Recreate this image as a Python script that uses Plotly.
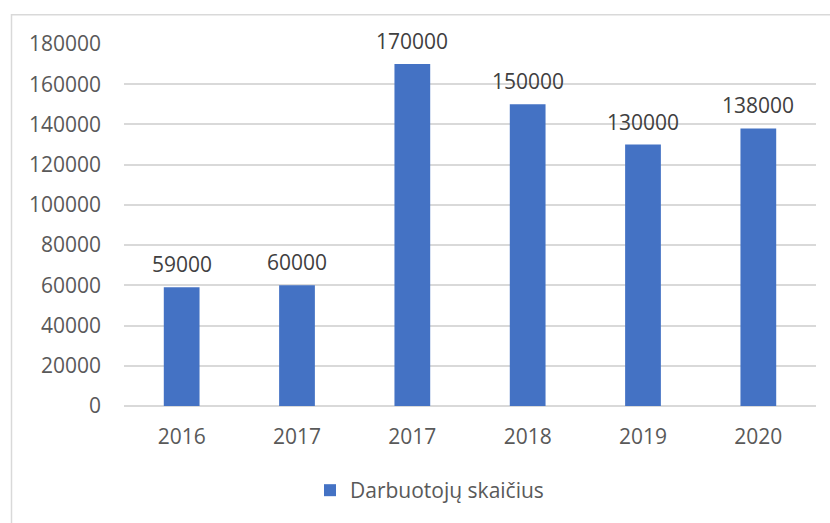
import plotly.graph_objects as go

# Employee counts by year (the year 2017 appears twice in the source table)
years = ["2016", "2017", "2017", "2018", "2019", "2020"]
employees = [59000, 60000, 170000, 150000, 130000, 138000]
series_name = "Darbuotojų skaičius"
y_ticks = [0, 20000, 40000, 60000, 80000, 100000, 120000, 140000, 160000, 180000]

positions = list(range(len(years)))
BAR_COLOR = "#4472C4"
GRID = "#d9d9d9"
FONT = "Open Sans"
FS = 21

fig = go.Figure()
fig.add_trace(go.Bar(
    x=positions,
    y=employees,
    name=series_name,
    marker=dict(color=BAR_COLOR, line=dict(width=0)),
    width=0.31,
    showlegend=True,
))

# value labels above each bar
for xi, v in zip(positions, employees):
    fig.add_annotation(
        x=xi, y=v, text=str(v), showarrow=False,
        yanchor="bottom", yshift=7,
        font=dict(family=FONT, size=FS, color="#404040"),
    )

# outer chart frame
W, H = 830, 523
L, R, T, B = 124, 14, 44, 115
pw, ph = W - L - R, H - T - B
def px_x(p):
    return (p - L) / pw
def px_y(p):
    return (H - B - p) / ph

fig.add_shape(type="rect", xref="paper", yref="paper",
              x0=px_x(11.5), x1=px_x(840), y0=px_y(540), y1=px_y(14.5),
              line=dict(color=GRID, width=1.5), fillcolor="rgba(0,0,0,0)", layer="below")

fig.update_layout(
    width=W, height=H,
    margin=dict(l=L, r=R, t=T, b=B),
    paper_bgcolor="white",
    plot_bgcolor="white",
    font=dict(family=FONT, size=FS, color="#595959"),
    bargap=0.69,
    xaxis=dict(
        tickmode="array", tickvals=positions, ticktext=years,
        range=[-0.5, len(years) - 0.5],
        showgrid=False, zeroline=False, showline=False,
        ticks="", ticklen=0, ticklabelstandoff=16,
        tickfont=dict(family=FONT, size=FS, color="#595959"),
    ),
    yaxis=dict(
        range=[0, 180000],
        tickvals=y_ticks,
        ticktext=[str(t) for t in y_ticks],
        showgrid=True, gridcolor=GRID, gridwidth=1.5,
        zeroline=True, zerolinecolor=GRID, zerolinewidth=1.5,
        showline=False, ticks="", ticklabelstandoff=22,
        tickfont=dict(family=FONT, size=FS, color="#595959"),
    ),
    legend=dict(
        orientation="h", x=px_x(310), xanchor="left",
        y=px_y(493), yanchor="middle",
        font=dict(family=FONT, size=FS, color="#595959"),
        itemwidth=30,
    ),
)

fig.write_html("out.html")
